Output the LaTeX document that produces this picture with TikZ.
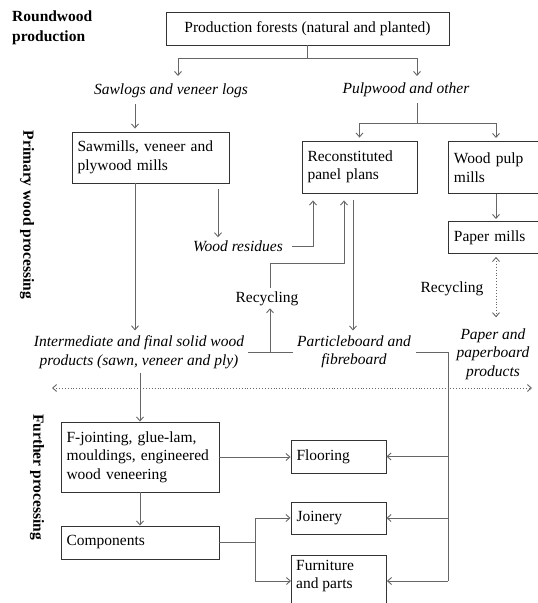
\documentclass[tikz,border=0pt]{standalone}
\usepackage{fontspec}
\setmainfont{Liberation Serif}
\usetikzlibrary{arrows.meta,calc}
\definecolor{linec}{HTML}{666666}
\definecolor{boxc}{HTML}{333333}
\tikzset{
  box/.style={draw=boxc, line width=0.9pt, rectangle, inner xsep=5pt, inner ysep=3pt, font=\fontsize{15.5}{18.5}\selectfont},
  lbox/.style={box, align=left},
  itxt/.style={font=\fontsize{15.5}{18.5}\selectfont\itshape, align=center, inner sep=1pt},
  rtxt/.style={font=\fontsize{15.5}{18.5}\selectfont, align=center, inner sep=1pt},
  btxt/.style={font=\fontsize{15.5}{20}\selectfont\bfseries, inner sep=0pt},
  conn/.style={draw=linec, line width=0.9pt},
  arr/.style={conn, -{Straight Barb[length=4pt,width=7pt]}},
  dotarr/.style={draw=linec, line width=0.9pt, dotted, {Straight Barb[length=4pt,width=7pt]}-{Straight Barb[length=4pt,width=7pt]}}
}
\begin{document}
\begin{tikzpicture}[x=1pt,y=-1pt]
\useasboundingbox (0,0) rectangle (538,603);
\clip (0,0) rectangle (538,603);

% side labels
\node[btxt, anchor=north west, align=left] (lround) at (12,11) {Roundwood\\production};
\node[btxt, rotate=-90] (lprim) at (27,215) {Primary wood processing};
\node[btxt, rotate=-90] (lfurth) at (37,477) {Further processing};

% boxes
\node[box, minimum width=283pt, minimum height=33pt] (prod) at (307.5,28.5) {Production forests (natural and planted)};
\node[lbox, minimum width=157pt, minimum height=51pt, text width=146pt] (sawm) at (150.5,157.5) {Sawmills, veneer and\\plywood mills};
\node[lbox, minimum width=115pt, minimum height=52pt, text width=104pt] (recon) at (359.5,167) {Reconstituted\\panel plans};
\node[lbox, anchor=north west, minimum width=100pt, minimum height=52pt, text width=89pt] (wpulp) at (448,141) {Wood pulp\\mills};
\node[lbox, anchor=north west, minimum width=100pt, minimum height=32pt, text width=89pt] (pmill) at (448,221) {Paper mills};
\node[lbox, minimum width=158pt, minimum height=70pt, text width=147pt] (fjoint) at (140,457) {F-jointing, glue-lam,\\mouldings, engineered\\wood veneering};
\node[lbox, minimum width=158pt, minimum height=33pt, text width=147pt] (comp) at (140,542.5) {Components};
\node[lbox, minimum width=95pt, minimum height=33pt, text width=84pt] (floor) at (338.5,456.5) {Flooring};
\node[lbox, minimum width=95pt, minimum height=32pt, text width=84pt] (join) at (338.5,518) {Joinery};
\node[box, anchor=north west, minimum width=95pt, minimum height=70pt] (furn) at (291,555) {};
\node[rtxt, anchor=north west, align=left, inner sep=0pt] (furntxt) at ([xshift=5pt,yshift=-5pt]furn.north west) {Furniture\\and parts};

% italic / plain text nodes
\node[itxt] (saw) at (171,91) {Sawlogs and veneer logs};
\node[itxt] (pulp) at (406,90) {Pulpwood and other};
\node[itxt] (resid) at (238,246) {Wood residues};
\node[rtxt] (recyc) at (267,299) {Recycling};
\node[rtxt] (recyc2) at (452,289) {Recycling};
\node[itxt] (inter) at (139,352) {Intermediate and final solid wood\\products (sawn, veneer and ply)};
\node[itxt] (part) at (354,352) {Particleboard and\\fibreboard};
\node[itxt] (paper) at (493,354) {Paper and\\paperboard\\products};

% helper coordinates
\coordinate (s1) at (307,58);
\coordinate (sawin) at (178,76);
\coordinate (pulpin) at (417,76);
\coordinate (s2) at (417,123);
\coordinate (colA) at (135,0);
\coordinate (colB) at (140,0);
\coordinate (colR) at (218,0);
\coordinate (colJ) at (270,0);
\coordinate (colW) at (313,0);
\coordinate (colC) at (344,0);
\coordinate (colP) at (353,0);
\coordinate (colM) at (496,0);
\coordinate (trunk) at (448,0);
\coordinate (ctrunk) at (255,0);
\coordinate (rowF) at (0,581);
\coordinate (rowR) at (0,263);
\coordinate (dl) at (52,388);
\coordinate (dr) at (532,388);

% roundwood split
\draw[conn] (prod.south -| s1) -- (s1);
\draw[arr] (s1) -| (sawin);
\draw[arr] (s1) -| (pulpin);

% sawlogs -> sawmills
\draw[arr] ([yshift=-5pt]saw.south -| colA) -- ([yshift=3pt]sawm.north -| colA);

% pulpwood split
\draw[conn] ([yshift=-5pt]pulp.south -| s2) -- (s2);
\draw[arr] (s2) -| ([yshift=3pt]recon.north);
\draw[arr] (s2) -| ([yshift=3pt]wpulp.north -| colM);

% sawmills -> residues
\draw[arr] ([yshift=-6pt]sawm.south -| colR) -- ([yshift=2pt]resid.north -| colR);
% residues -> reconstituted
\draw[arr] ([xshift=8pt]resid.east) -| ([yshift=-7pt]recon.south -| colW);
% recycling -> reconstituted
\draw[arr] ([yshift=3pt]recyc.north -| colJ) -- (rowR -| colJ) -- (rowR -| colC) -- ([yshift=-7pt]recon.south -| colC);
% reconstituted -> particleboard
\draw[arr] ([yshift=-7pt]recon.south -| colP) -- ([yshift=4pt]part.north -| colP);
% wood pulp -> paper mills
\draw[arr] (wpulp.south -| colM) -- ([yshift=2pt]pmill.north -| colM);
% paper mills <-> paper products
\draw[dotarr] ([yshift=-3pt]pmill.south -| colM) -- ([yshift=10pt]paper.north -| colM);

% sawmills -> intermediate
\draw[arr] (sawm.south -| colA) -- ([yshift=4pt]inter.north -| colA);

% junction between intermediate and particleboard
\draw[conn] ([xshift=3pt]inter.east) -- ([xshift=-3pt]part.west);
\draw[arr] (inter.east -| colJ) -- ([yshift=-1pt]recyc.south -| colJ);

% dotted divider
\draw[dotarr] (dl) -- (dr);

% intermediate -> F-jointing
\draw[arr] ([yshift=-3pt]inter.south -| colB) -- (fjoint.north -| colB);
% F-jointing -> components
\draw[arr] (fjoint.south -| colB) -- (comp.north -| colB);
% F-jointing -> flooring
\draw[arr] (fjoint.east) -- (floor.west |- fjoint.east);

% particleboard trunk
\draw[conn] ([xshift=4pt]part.east) -| (rowF -| trunk);
\draw[arr] (floor.east -| trunk) -- (floor.east);
\draw[arr] (join.east -| trunk) -- (join.east);
\draw[arr] (rowF -| trunk) -- (rowF -| furn.east);

% components trunk
\draw[conn] (comp.east) -- (comp.east -| ctrunk);
\draw[conn] (join.west -| ctrunk) -- (rowF -| ctrunk);
\draw[arr] (join.west -| ctrunk) -- (join.west);
\draw[arr] (rowF -| ctrunk) -- (rowF -| furn.west);
\end{tikzpicture}
\end{document}
